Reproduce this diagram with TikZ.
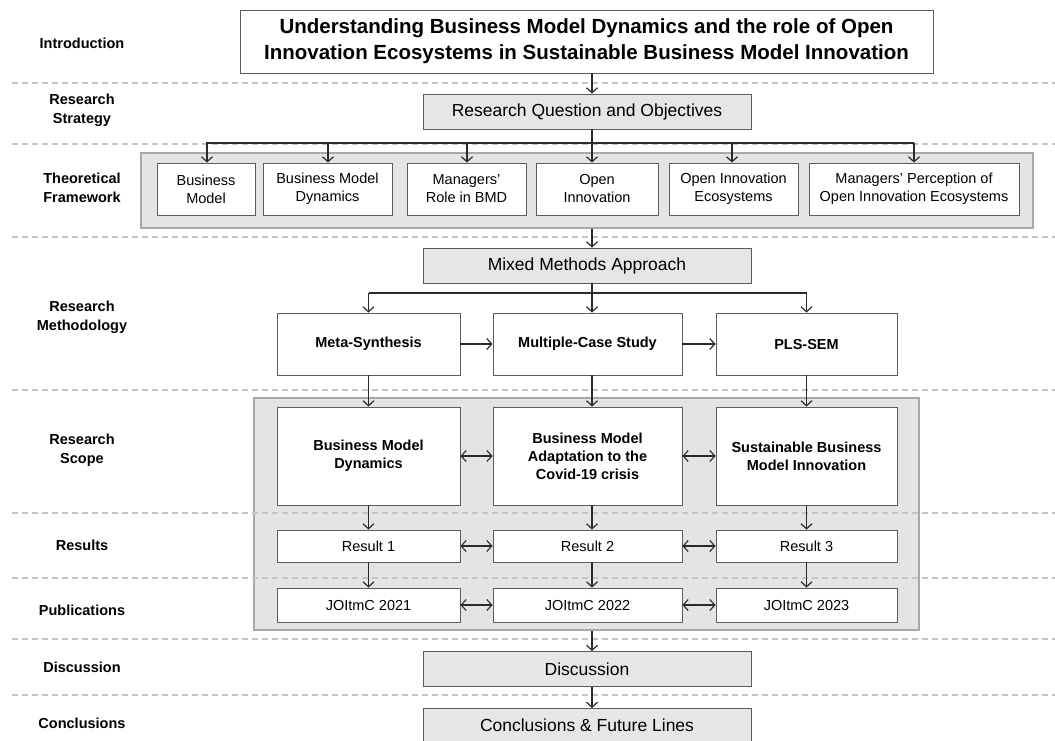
\documentclass[tikz,border=0pt]{standalone}
\usepackage{fontspec}
\setmainfont{Liberation Sans}
\usetikzlibrary{arrows.meta}
\definecolor{panelfill}{HTML}{E4E4E4}
\definecolor{panelline}{HTML}{A8A8A8}
\definecolor{boxline}{HTML}{5C5C5C}
\definecolor{graybox}{HTML}{E6E6E6}
\definecolor{sepline}{HTML}{C4C4C4}
\definecolor{arrowcol}{HTML}{2A2A2A}
\tikzset{
  base/.style={draw=boxline, line width=0.9pt, inner sep=0pt, align=center, text=black},
  wbox/.style={base, fill=white, font=\fontsize{14.5}{18}\selectfont},
  bbox/.style={base, fill=white, font=\fontsize{14.5}{18}\selectfont\bfseries},
  gbox/.style={base, fill=graybox, font=\fontsize{17.5}{21}\selectfont, minimum width=328pt, minimum height=35pt},
  panel/.style={draw=panelline, fill=panelfill, line width=1.2pt, inner sep=0pt},
  stage/.style={font=\fontsize{14.5}{19}\selectfont\bfseries, align=center},
  sep/.style={draw=sepline, line width=1.1pt, dash pattern=on 6pt off 4pt},
  flow/.style={draw=arrowcol, line width=1.3pt, -{Straight Barb[length=5pt,width=11pt,line width=1.2pt]}},
  link/.style={draw=arrowcol, line width=1.3pt},
  both/.style={draw=arrowcol, line width=1.2pt, {Straight Barb[length=5pt,width=11pt,line width=1.1pt]}-{Straight Barb[length=5pt,width=11pt,line width=1.1pt]}}
}
\begin{document}
\begin{tikzpicture}[x=1pt,y=-1pt]
\useasboundingbox (0,0) rectangle (1055,740);
\clip (0,0) rectangle (1055,740);

% stage labels
\node[stage] (lIntro) at (82,43) {Introduction};
\node[stage] (lStrat) at (82,110) {Research\\Strategy};
\node[stage] (lTheo) at (82,188) {Theoretical\\Framework};
\node[stage] (lMeth) at (82,317) {Research\\Methodology};
\node[stage] (lScope) at (82,450) {Research\\Scope};
\node[stage] (lRes) at (82,545) {Results};
\node[stage] (lPub) at (82,610) {Publications};
\node[stage] (lDisc) at (82,667) {Discussion};
\node[stage] (lConc) at (82,723) {Conclusions};

% grey panels
\node[panel, minimum width=892pt, minimum height=75pt] (fw) at (587,190.5) {};
\node[panel, minimum width=665pt, minimum height=232pt] (scope) at (586.5,514) {};

% dashed separators between stages
\foreach \y in {83,144,237,390,513,578,639,695}
  \draw[sep] (12,\y) -- (1055,\y);

% spine of the central column
\coordinate (spine) at (592,0);

% title
\node[base, fill=white, minimum width=693pt, minimum height=63pt,
      font=\fontsize{20.5}{26}\selectfont\bfseries] (title) at (586.5,41.5)
  {Understanding Business Model Dynamics and the role of Open\\Innovation Ecosystems in Sustainable Business Model Innovation};

\node[gbox] (rq) at (587,111.5) {Research Question and Objectives};

% theoretical framework
\node[wbox, minimum width=98pt, minimum height=52pt] (bm) at (206,189) {Business\\Model};
\node[wbox, minimum width=129pt, minimum height=52pt] (bmd) at (327.5,189) {Business Model\\Dynamics};
\node[wbox, minimum width=119pt, minimum height=52pt] (mr) at (466.5,189) {Managers'\\Role in BMD};
\node[wbox, minimum width=122pt, minimum height=52pt] (oi) at (597,189) {Open\\Innovation};
\node[wbox, minimum width=129pt, minimum height=52pt] (oie) at (733.5,189) {Open Innovation\\Ecosystems};
\node[wbox, minimum width=210pt, minimum height=52pt] (mp) at (914,189) {Managers' Perception of\\Open Innovation Ecosystems};

\node[gbox] (mma) at (587,265.5) {Mixed Methods Approach};

% methodology
\node[bbox, minimum width=183pt, minimum height=62pt] (meta) at (368.5,344) {Meta-Synthesis};
\node[bbox, minimum width=189pt, minimum height=62pt] (mcs) at (587.5,344) {Multiple-Case Study};
\node[bbox, minimum width=181pt, minimum height=62pt] (pls) at (806.5,344) {PLS-SEM};

% research scope
\node[bbox, minimum width=183pt, minimum height=98pt] (s1) at (368.5,456) {Business Model\\Dynamics};
\node[bbox, minimum width=189pt, minimum height=98pt] (s2) at (587.5,456) {Business Model\\Adaptation to the\\Covid-19 crisis};
\node[bbox, minimum width=181pt, minimum height=98pt] (s3) at (806.5,456) {Sustainable Business\\Model Innovation};

% results
\node[wbox, minimum width=183pt, minimum height=32pt] (r1) at (368.5,546) {Result 1};
\node[wbox, minimum width=189pt, minimum height=32pt] (r2) at (587.5,546) {Result 2};
\node[wbox, minimum width=181pt, minimum height=32pt] (r3) at (806.5,546) {Result 3};

% publications
\node[wbox, minimum width=183pt, minimum height=34pt] (p1) at (368.5,605) {JOItmC 2021};
\node[wbox, minimum width=189pt, minimum height=34pt] (p2) at (587.5,605) {JOItmC 2022};
\node[wbox, minimum width=181pt, minimum height=34pt] (p3) at (806.5,605) {JOItmC 2023};

\node[gbox] (disc) at (587,669) {Discussion};
\node[gbox, minimum height=40pt, anchor=north] (conc) at (587,708) {};
\node[font=\fontsize{17.5}{21}\selectfont] (conct) at (587,725) {Conclusions \& Future Lines};

% connectors
\draw[flow] (title.south -| spine) -- (rq.north -| spine);

\coordinate (fwbar) at (592,143);
\draw[link] (rq.south -| spine) -- (fwbar);
\draw[link] (fwbar -| bm) -- (fwbar -| mp);
\foreach \n/\dx in {bm/1,bmd/0.5,mr/0.5,oie/-1.5,mp/0}
  \draw[flow] ([xshift=\dx pt]fwbar -| \n) -- ([xshift=\dx pt]\n.north);
\draw[flow] (fwbar) -- (oi.north -| spine);

\draw[flow] (fw.south -| spine) -- (mma.north -| spine);

\coordinate (mbar) at (592,293);
\draw[link] (mma.south -| spine) -- (mbar);
\draw[link] (mbar -| meta) -- (mbar -| pls);
\draw[flow] (mbar -| meta) -- (meta.north);
\draw[flow] (mbar) -- (mcs.north -| spine);
\draw[flow] (mbar -| pls) -- (pls.north);

\draw[flow] (meta) -- (mcs);
\draw[flow] (mcs) -- (pls);

\draw[flow] (meta.south) -- (s1.north);
\draw[flow] (mcs.south -| spine) -- (s2.north -| spine);
\draw[flow] (pls.south) -- (s3.north);

\draw[flow] (s1.south) -- (r1.north);
\draw[flow] (s2.south -| spine) -- (r2.north -| spine);
\draw[flow] (s3.south) -- (r3.north);

\draw[flow] (r1.south) -- (p1.north);
\draw[flow] (r2.south -| spine) -- (p2.north -| spine);
\draw[flow] (r3.south) -- (p3.north);

\draw[both] (s1) -- (s2);
\draw[both] (s2) -- (s3);
\draw[both] (r1) -- (r2);
\draw[both] (r2) -- (r3);
\draw[both] (p1) -- (p2);
\draw[both] (p2) -- (p3);

\draw[flow] (scope.south -| spine) -- (disc.north -| spine);
\draw[flow] (disc.south -| spine) -- (conc.north -| spine);
\end{tikzpicture}
\end{document}
